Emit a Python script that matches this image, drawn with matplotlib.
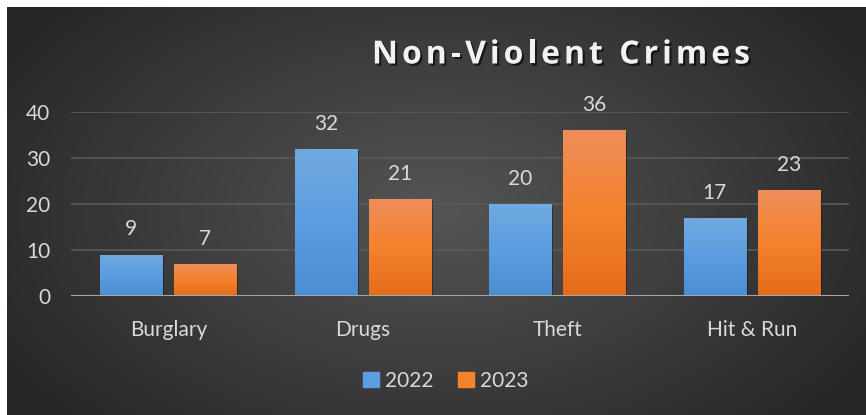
import numpy as np
import matplotlib
matplotlib.use("Agg")
import matplotlib.pyplot as plt
import matplotlib.patheffects as pe
from matplotlib.colors import LinearSegmentedColormap

# data
categories = ["Burglary", "Drugs", "Theft", "Hit & Run"]
years = ["2022", "2023"]
values_2022 = [9, 32, 20, 17]
values_2023 = [7, 21, 36, 23]
title = "Non-Violent Crimes"

plt.rcParams["font.family"] = ["Lato", "DejaVu Sans"]
txt = "#d9d9d9"

W, H = 866, 415
fig = plt.figure(figsize=(W / 100, H / 100), dpi=100, facecolor="white")

# dark radial-gradient background panel
bg = fig.add_axes([7 / W, 0, 1 - 8 / W, 1 - 7 / H])
bg.axis("off")
yy, xx = np.mgrid[0:1:300j, 0:1:600j]
r = np.sqrt(((xx - 0.5) / 0.75) ** 2 + ((yy - 0.5) / 0.95) ** 2)
bg_cmap = LinearSegmentedColormap.from_list("bg", ["#545454", "#3e3e3e", "#262626"])
bg.imshow(r, cmap=bg_cmap, aspect="auto", extent=[0, 1, 0, 1], vmin=0, vmax=0.8)

ax = fig.add_axes([71 / W, 119 / H, (849 - 71) / W, (296 - 112) / H])
ax.patch.set_alpha(0)

x = np.arange(len(categories))
width = 0.32
off = 0.19

blue_cm = LinearSegmentedColormap.from_list("b", ["#4a8ed3", "#5b9de0", "#72aae0"])
orange_cm = LinearSegmentedColormap.from_list("o", ["#e46c1a", "#f5822c", "#ee8e5a"])


def gradient_bars(xs, vals, cmap):
    bars = ax.bar(xs, vals, width, color="none", zorder=3,
                  path_effects=[pe.SimplePatchShadow(offset=(1.5, -1.5), shadow_rgbFace="black", alpha=0.35)])
    grad = np.linspace(0, 1, 256).reshape(-1, 1)
    for b in bars:
        x0, y0 = b.get_x(), b.get_y()
        im = ax.imshow(grad, cmap=cmap, aspect="auto", origin="lower",
                       extent=[x0, x0 + b.get_width(), y0, y0 + b.get_height()], zorder=3)
        im.set_clip_path(b)
    for b, v in zip(bars, vals):
        ax.annotate(str(v), (b.get_x() + b.get_width() / 2, v), xytext=(0, 11),
                    textcoords="offset points", ha="center", va="bottom",
                    fontsize=15, color=txt, annotation_clip=False)
    return bars


gradient_bars(x - off, values_2022, blue_cm)
gradient_bars(x + off, values_2023, orange_cm)

ax.set_xlim(-0.5, len(categories) - 0.5)
ax.set_ylim(0, 40)
ax.set_yticks([0, 10, 20, 30, 40])
ax.set_xticks(x)
ax.set_xticklabels(categories)
ax.tick_params(axis="both", length=0, labelsize=15, colors=txt)
ax.tick_params(axis="x", pad=17)
ax.tick_params(axis="y", pad=15)
for lab in ax.get_yticklabels():
    lab.set_ha("right")
ax.grid(axis="y", color="#5a5a5a", linewidth=1.2, zorder=0)
ax.set_axisbelow(True)
for s in ax.spines.values():
    s.set_visible(False)
ax.axhline(0, color="#a6a6a6", linewidth=2.2, zorder=4)

# title: letter-spaced, with shadow
tprops = dict(fontsize=23, fontweight="bold", color="#f2f2f2", family=["Open Sans", "DejaVu Sans"],
              va="center", ha="left")
renderer = fig.canvas.get_renderer()


def text_w(s):
    t = fig.text(0, 0, s, **tprops)
    w = t.get_window_extent(renderer).width
    t.remove()
    return w


spacing = 4.0
full_w = text_w(title) + spacing * (len(title) - 1)
x_left = 561 - full_w / 2
for i, ch in enumerate(title):
    if ch == " ":
        continue
    start = text_w(title[:i + 1]) - text_w(ch)
    fig.text((x_left + start + spacing * i) / W, 1 - 55 / H, ch, **tprops,
             path_effects=[pe.withSimplePatchShadow(offset=(1.5, -1.5), shadow_rgbFace="black", alpha=0.6)])

# legend
h1 = plt.Rectangle((0, 0), 1, 1, color="#5b9de0")
h2 = plt.Rectangle((0, 0), 1, 1, color="#f5822c")
fig.legend([h1, h2], years, loc="center", bbox_to_anchor=(446 / W, 1 - 381 / H),
           ncol=2, frameon=False, fontsize=15, labelcolor=txt,
           handlelength=0.75, handleheight=0.75, handletextpad=0.3, columnspacing=1.2)

fig.savefig("out.png", dpi=100, facecolor="white")
